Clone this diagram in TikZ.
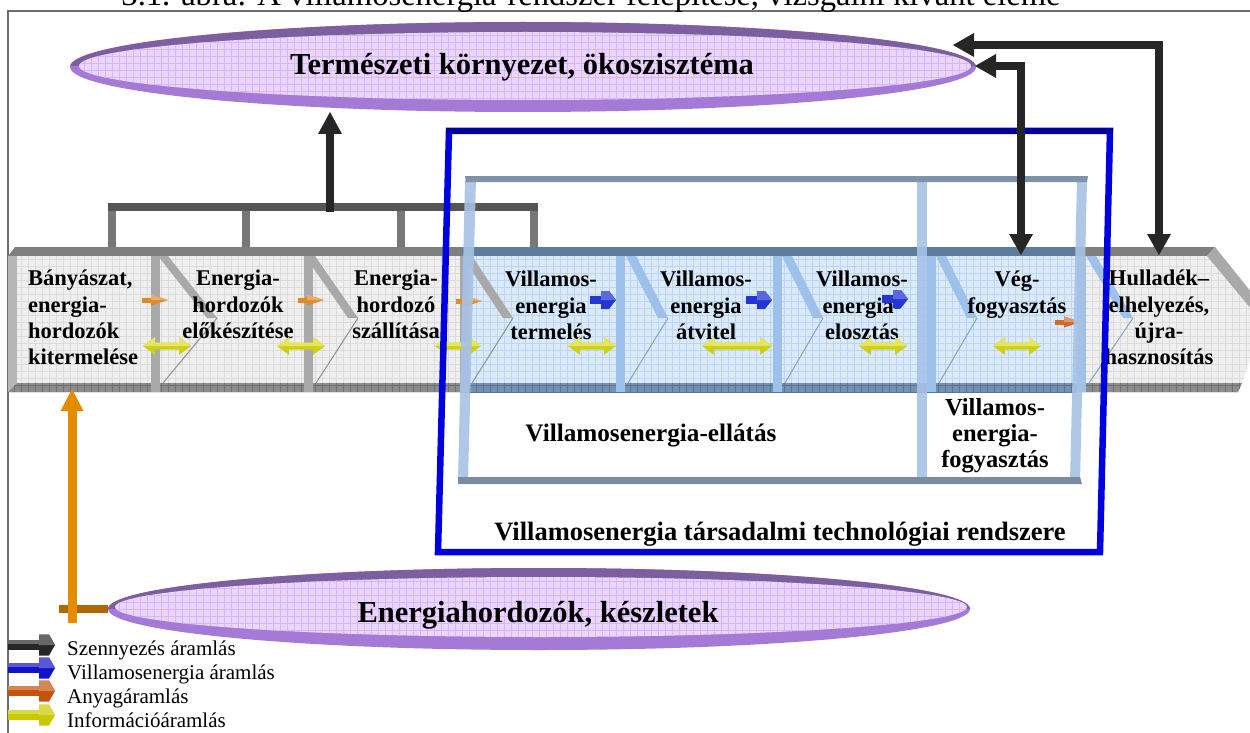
\documentclass[tikz,border=0pt]{standalone}
\usepackage{fontspec}
\setmainfont{Liberation Serif}
\usetikzlibrary{arrows.meta}

\definecolor{rimdark}{HTML}{7D5E9E}
\definecolor{rimlight}{HTML}{A47AD6}
\definecolor{lavender}{HTML}{EAD5FC}
\definecolor{lavmesh}{HTML}{D7B6F2}
\definecolor{grayface}{HTML}{EFEFEF}
\definecolor{graymesh}{HTML}{DCDCDC}
\definecolor{graytop}{HTML}{7F7F7F}
\definecolor{graybottom}{HTML}{8C8C8C}
\definecolor{graybar}{HTML}{A9A9A9}
\definecolor{blueface}{HTML}{DAEAFB}
\definecolor{bluemesh}{HTML}{BDD6F0}
\definecolor{bluetop}{HTML}{5E7D9C}
\definecolor{bluebottom}{HTML}{7391B2}
\definecolor{bluebar}{HTML}{9DC1EA}
\definecolor{lbbar}{HTML}{A7C2E6}
\definecolor{lbtop}{HTML}{7E92A8}
\definecolor{lbbottom}{HTML}{7B8CA1}
\definecolor{sysblue}{HTML}{0000E0}
\definecolor{sysnavy}{HTML}{00009C}
\definecolor{pollution}{HTML}{262626}
\definecolor{busgray}{HTML}{555555}
\definecolor{dropgray}{HTML}{777777}
\definecolor{matorange}{HTML}{E48B00}
\definecolor{matbrown}{HTML}{AD6900}
\definecolor{infoyellow}{HTML}{CFCF1A}
\definecolor{infolight}{HTML}{E6E65E}
\definecolor{elblue}{HTML}{2536D0}
\definecolor{smallorange}{HTML}{E08A2C}
\definecolor{redorange}{HTML}{D0692A}
\definecolor{framegray}{HTML}{6E6E6E}
\definecolor{legblack}{HTML}{262626}
\definecolor{legblue}{HTML}{1212C8}
\definecolor{legorange}{HTML}{C5520E}
\definecolor{legyellow}{HTML}{C9C900}

\tikzset{
  mesh/.style={path picture={\draw[#1,line width=0.5pt]
      (path picture bounding box.south west) grid[step=7pt]
      (path picture bounding box.north east);}},
  chevlabel/.style={font=\fontsize{22.5}{26.3}\selectfont\bfseries,
      inner sep=0pt, align=center, anchor=north},
  boxlabel/.style={font=\fontsize{24.5}{26}\selectfont\bfseries,
      inner sep=0pt, align=center},
  syslabel/.style={font=\fontsize{26.5}{28}\selectfont\bfseries,
      inner sep=0pt, anchor=base},
  titlelabel/.style={font=\fontsize{30.5}{32}\selectfont\bfseries,
      inner sep=0pt, anchor=base},
  legendlabel/.style={font=\fontsize{21}{24}\selectfont,
      inner sep=0pt, anchor=base west},
  captionlabel/.style={font=\fontsize{32.6}{34}\selectfont,
      inner sep=0pt, anchor=base},
  pollutionflow/.style={draw=pollution, line width=8.5pt,
      -{Triangle[width=24pt,length=22pt,line width=0pt]}},
  pollutionboth/.style={draw=pollution, line width=8.5pt,
      {Triangle[width=24pt,length=21pt,line width=0pt]}-{Triangle[width=24pt,length=21pt,line width=0pt]}},
  matflow/.style={draw=matorange, line width=9pt,
      -{Triangle[width=23pt,length=22pt,line width=0pt]}},
  busline/.style={draw=busgray, line width=8pt},
  dropline/.style={draw=dropgray, line width=8pt},
  % double headed information arrow, #1 = half length
  pics/infoarrow/.style={code={
    \fill[infoyellow] (-#1,0) -- (-#1+12,-9) -- (-#1+12,-3.5) -- (#1-12,-3.5)
      -- (#1-12,-9) -- (#1,0) -- (#1-12,9) -- (#1-12,3.5) -- (-#1+12,3.5)
      -- (-#1+12,9) -- cycle;
    \fill[infolight] (-#1,0) -- (-#1+12,-9) -- (-#1+12,-3.5) -- (#1-12,-3.5)
      -- (#1-12,-9) -- (#1,0) -- cycle;
  }},
  % small material arrow
  pics/matarrow/.style={code={
    \fill[#1] (-13,-2.5) rectangle (-3,2.5);
    \fill[#1] (-4,-5.5) -- (13,0) -- (-4,5.5) -- cycle;
    \fill[#1!70!white] (-4,-5.5) -- (13,0) -- (-4,0) -- cycle;
  }},
  % small electricity arrow
  pics/elarrow/.style={code={
    \fill[elblue] (-13,-4) rectangle (0,4);
    \fill[elblue] (-2,-9) -- (6,-9) -- (13,0) -- (6,9) -- (-2,9) -- cycle;
    \fill[elblue!75!white] (-2,-9) -- (6,-9) -- (13,0) -- (-2,0) -- cycle;
  }},
  % legend arrow, #1 = colour
  pics/legendarrow/.style={code={
    \fill[#1] (0,-5) rectangle (33,5);
    \fill[#1!70!white] (0,-5) rectangle (33,-1.5);
    \fill[#1] (31,-10.5) -- (41,-10.5) -- (47,0) -- (41,10.5) -- (31,10.5) -- cycle;
    \fill[#1!70!white] (31,-10.5) -- (41,-10.5) -- (47,0) -- (31,0) -- cycle;
  }},
}

% boundary between two chevrons: left bevel bar, upper point edge, lower point edge
\newcommand\chevsep[5]{%
  \fill[#4] (#1,256) rectangle ({#1+9},392);
  \fill[#5] (#2,256) -- ({#2+10},256) -- (#3,318) -- ({#3-10},318) -- cycle;
  \draw[#5!85!black, line width=1pt] (#3,318) -- ({#1+12},383);
}

\begin{document}
\begin{tikzpicture}[x=1pt,y=-1pt,line join=miter]
\useasboundingbox (0,0) rectangle (1250,733);
\clip (0,0) rectangle (1250,733);

% page frame and caption
\draw[framegray, line width=1.2pt] (8,733) -- (8,11) -- (1250,11);
\node[captionlabel] (caption) at (591,6)
  {3.1. ábra: A villamosenergia-rendszer felépítése, vizsgálni kívánt eleme};

% natural environment (top lens)
\fill[rimlight] (523,67) ellipse [x radius=453, y radius=45];
\begin{scope}
  \clip (0,0) rectangle (1250,66);
  \fill[rimdark] (523,67) ellipse [x radius=453, y radius=45];
\end{scope}
\fill[lavender, mesh=lavmesh] (525,66) ellipse [x radius=446, y radius=34];
\node[titlelabel] (nature) at (522,75) {Természeti környezet, ökoszisztéma};

% pollution collector above the first four steps
\coordinate (bus) at (330,207);
\coordinate (d1) at (112,250);
\coordinate (d2) at (246,250);
\coordinate (d3) at (401,250);
\coordinate (d4) at (534,250);
\coordinate (natLow) at (330,112);
\foreach \d in {d1,d2,d3,d4} \draw[dropline] (\d) -- (\d |- 0,203);
\draw[busline] (108,207) -- (538,207);
\draw[pollutionflow] (330,212) -- (natLow);

% ---- process chain ----
% top bevels
\fill[graytop] (8,256) -- (15,247) -- (462,247) -- (462,256) -- cycle;
\fill[bluetop] (462,247) rectangle (1080,256);
\fill[graytop] (1080,247) -- (1215,247) -- (1207,256) -- (1080,256) -- cycle;
% faces
\fill[grayface, mesh=graymesh] (17,256) rectangle (151,383);
\fill[grayface, mesh=graymesh] (151,256) rectangle (304,383);
\fill[grayface, mesh=graymesh] (304,256) rectangle (460,383);
\fill[blueface, mesh=bluemesh] (460,256) rectangle (616,383);
\fill[blueface, mesh=bluemesh] (616,256) rectangle (773,383);
\fill[blueface, mesh=bluemesh] (773,256) rectangle (927,383);
\fill[blueface, mesh=bluemesh] (927,256) rectangle (1077,383);
\fill[grayface, mesh=graymesh] (1077,256) -- (1207,256) -- (1262,322)
  -- (1242,383) -- (1077,383) -- cycle;
\fill[graybar] (1207,256) -- (1215,247) -- (1272,318) -- (1262,322) -- cycle;
% left bevel and bottom bevels
\fill[graybar!85!white] (8,256) rectangle (17,392);
\fill[graybottom, mesh=graybottom!80!black] (8,392) -- (17,383) -- (460,383) -- (460,392) -- cycle;
\fill[bluebottom, mesh=bluebottom!80!black] (460,383) rectangle (1077,392);
\fill[graybottom, mesh=graybottom!80!black] (1077,383) -- (1242,383) -- (1238,392) -- (1077,392) -- cycle;
% chevron joints
\chevsep{151}{158}{217}{graybar}{graybar}
\chevsep{304}{305}{358}{graybar}{graybar}
\chevsep{460}{462}{513}{graybar}{graybar}
\chevsep{616}{626}{668}{bluebar}{bluebar}
\chevsep{773}{782}{823}{bluebar}{bluebar}
\chevsep{927}{936}{977}{bluebar}{bluebar}
\chevsep{1077}{1086}{1133}{bluebar}{bluebar}

% step labels
\node[chevlabel, align=left, anchor=north west] (c1) at (28,270)
  {Bányászat,\\energia-\\hordozók\\kitermelése};
\node[chevlabel] (c2) at (238,270) {Energia-\\hordozók\\előkészítése};
\node[chevlabel] (c3) at (396,270) {Energia-\\hordozó\\szállítása};
\node[chevlabel] (c4) at (551,271) {Villamos-\\energia\\termelés};
\node[chevlabel] (c5) at (706,271) {Villamos-\\energia\\átvitel};
\node[chevlabel] (c6) at (862,271) {Villamos-\\energia-\\elosztás};
\node[chevlabel] (c7) at (1017,271) {Vég-\\fogyasztás};
\node[chevlabel] (c8) at (1159,270) {Hulladék–\\elhelyezés,\\újra-\\hasznosítás};

% flows between steps
\pic at (155,300) {matarrow=smallorange};
\pic at (311,300) {matarrow=smallorange};
\pic at (469,301) {matarrow=smallorange};
\pic at (1068,322) {matarrow=redorange};
\pic at (603,300) {elarrow};
\pic at (759,300) {elarrow};
\pic at (895,299) {elarrow};
\pic at (167,346) {infoarrow=24};
\pic at (301,346) {infoarrow=24};
\pic at (458,346) {infoarrow=23};
\pic at (592,346) {infoarrow=24};
\pic at (737,346) {infoarrow=35};
\pic at (883,346) {infoarrow=24};
\pic at (1017,346) {infoarrow=24};

% electricity supply / consumption frame
\begin{scope}[opacity=0.9]
  \fill[lbbar] (465,180) -- (476,180) -- (468,480) -- (458,480) -- cycle;
  \fill[lbbar] (917,180) rectangle (927,480);
  \fill[lbbar] (1077,180) -- (1087,180) -- (1080,482) -- (1070,482) -- cycle;
\end{scope}
\fill[lbtop] (465,176) -- (1088,176) -- (1087,182) -- (466,182) -- cycle;
\fill[lbbottom] (458,477) -- (1080,477) -- (1082,484) -- (458,484) -- cycle;
\node[boxlabel, anchor=base, font=\fontsize{25.2}{26}\selectfont\bfseries]
  (supply) at (651,441) {Villamosenergia-ellátás};
\node[boxlabel, anchor=north] (consumption) at (995,398)
  {Villamos-\\energia-\\fogyasztás};

% socio-technical system frame
\draw[sysblue, line width=6.5pt] (449,131) -- (1110,131) -- (1100,552)
  -- (438,552) -- cycle;
\draw[sysnavy, line width=6.5pt] (446,131) -- (1113,131);
\node[syslabel] (system) at (780,540)
  {Villamosenergia társadalmi technológiai rendszere};

% pollution exchange with the environment
\coordinate (natRightA) at (953,45);
\coordinate (natRightB) at (975,66);
\coordinate (wasteTop) at (1159,255);
\coordinate (endTop) at (1021,255);
\draw[pollutionboth] (wasteTop) |- (natRightA);
\draw[pollutionboth] (endTop) |- (natRightB);

% energy resources (bottom lens)
\fill[rimlight] (539,609) ellipse [x radius=431, y radius=41];
\begin{scope}
  \clip (0,0) rectangle (1250,608);
  \fill[rimdark] (539,609) ellipse [x radius=431, y radius=41];
\end{scope}
\fill[lavender, mesh=lavmesh] (541,607) ellipse [x radius=426, y radius=30];
\node[titlelabel] (resources) at (538,622) {Energiahordozók, készletek};

% material flow from the resources to mining
\coordinate (resTip) at (108,609);
\coordinate (mineBottom) at (72,389);
\draw[matbrown, line width=8pt] (resTip) -- (59,609);
\draw[matflow] (72,623) -- (mineBottom);

% legend
\pic at (8,645) {legendarrow=legblack};
\pic at (8,668) {legendarrow=legblue};
\pic at (8,691) {legendarrow=legorange};
\pic at (8,715) {legendarrow=legyellow};
\node[legendlabel] (lg1) at (67,655) {Szennyezés áramlás};
\node[legendlabel] (lg2) at (67,679) {Villamosenergia áramlás};
\node[legendlabel] (lg3) at (67,703) {Anyagáramlás};
\node[legendlabel] (lg4) at (67,727) {Információáramlás};
\end{tikzpicture}
\end{document}
